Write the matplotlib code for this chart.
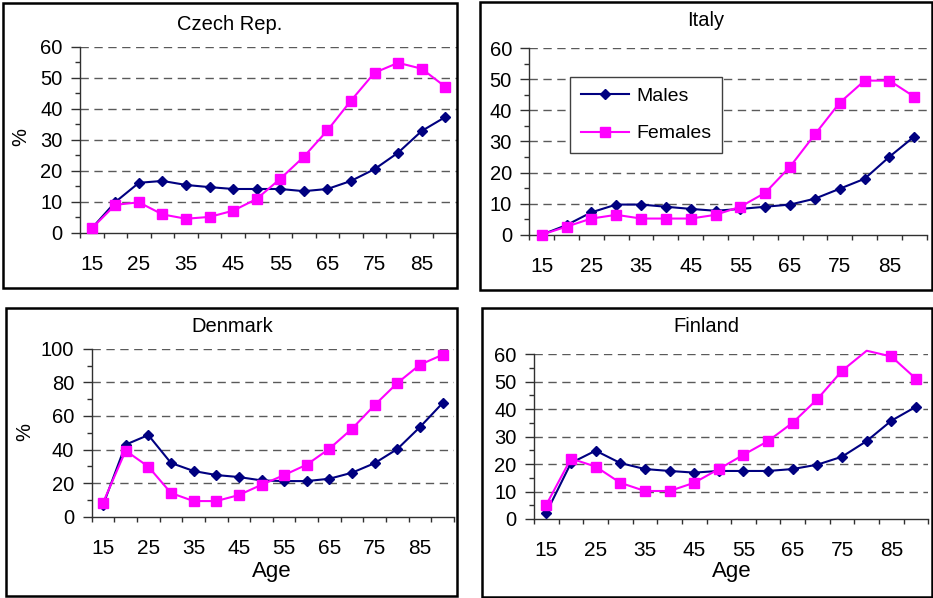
import matplotlib
matplotlib.use("Agg")
import matplotlib.pyplot as plt
from matplotlib.patches import Rectangle
from matplotlib.ticker import MultipleLocator, FixedLocator
import numpy as np

plt.rcParams['font.family'] = ['Liberation Sans', 'DejaVu Sans']

ages = [15, 20, 25, 30, 35, 40, 45, 50, 55, 60, 65, 70, 75, 80, 85, 90]
age_labels = ['15', '', '25', '', '35', '', '45', '', '55', '', '65', '', '75', '', '85', '']

czech_males = [1.4, 9.9, 16.1, 16.7, 15.4, 14.7, 14.1, 14.1, 14.1, 13.4, 14.1, 16.7, 20.5, 25.8, 32.8, 37.3]
czech_females = [1.4, 9.0, 9.8, 5.9, 4.5, 5.1, 7.1, 10.9, 17.4, 24.5, 33.0, 42.6, 51.6, 54.8, 52.9, 47.1]

italy_males = [0.0, 3.1, 7.2, 9.7, 9.7, 9.0, 8.3, 7.7, 8.3, 9.0, 9.7, 11.6, 14.8, 18.0, 25.1, 31.6]
italy_females = [0.0, 2.6, 5.2, 6.4, 5.2, 5.2, 5.2, 6.4, 9.0, 13.5, 21.9, 32.3, 42.5, 49.6, 49.6, 44.4]

denmark_males = [6.9, 42.9, 48.6, 32.0, 27.2, 24.8, 23.6, 21.6, 21.2, 21.2, 22.6, 26.2, 31.9, 40.3, 53.4, 67.7]
denmark_females = [8.3, 39.3, 29.8, 14.1, 9.3, 9.3, 12.9, 19.0, 24.8, 31.0, 40.5, 52.4, 66.5, 79.6, 90.5, 96.4]

finland_males = [2.3, 20.4, 24.9, 20.4, 18.2, 17.5, 16.9, 17.5, 17.5, 17.5, 18.2, 19.8, 22.7, 28.4, 35.8, 40.9]
finland_females = [5.2, 22.0, 19.1, 13.2, 10.2, 10.2, 13.2, 18.2, 23.4, 28.4, 35.1, 43.7, 54.0, 61.3, 59.2, 51.1]

W, H = 933, 598
fig = plt.figure(figsize=(W / 100, H / 100), dpi=100)

MALE_C = '#000080'
FEMALE_C = '#FF00FF'
GRID_C = '#5a5a5a'
AX_C = '#303030'

TICK_FS = 14.5
TITLE_FS = 14.5


def px_axes(left, right, top, bottom):
    return fig.add_axes([left / W, 1 - bottom / H, (right - left) / W, (bottom - top) / H])


def border(x0, y0, x1, y1):
    fig.patches.append(Rectangle((x0 / W, 1 - y1 / H), (x1 - x0) / W, (y1 - y0) / H,
                                 transform=fig.transFigure, fill=False,
                                 edgecolor='black', linewidth=1.8, zorder=0))


def panel(box, ax_px, title, title_xy, males, females, ymax, ystep, ylabel_xy=None,
          age_xy=None, legend=False):
    border(*box)
    ax = px_axes(*ax_px)
    x = np.arange(len(ages))
    for vals, col, mk, ms, lab in [(males, MALE_C, 'D', 4.6, 'Males'),
                                   (females, FEMALE_C, 's', 6.8, 'Females')]:
        vals = np.asarray(vals)
        keep = [i for i in range(len(vals)) if vals[i] <= ymax]
        ax.plot(x, vals, color=col, lw=1.5, marker=mk, ms=ms, mfc=col, mec=col,
                markevery=keep, clip_on=False, label=lab, zorder=3)
    ax.set_xlim(-0.5, len(ages) - 0.5)
    ax.set_ylim(0, ymax)
    for s in ['top', 'right']:
        ax.spines[s].set_visible(False)
    for s in ['left', 'bottom']:
        ax.spines[s].set_color(AX_C)
        ax.spines[s].set_linewidth(1.0)
    ax.yaxis.set_major_locator(MultipleLocator(ystep))
    ax.yaxis.set_minor_locator(MultipleLocator(ystep / 2))
    ax.tick_params(axis='y', which='major', direction='out', length=6.5, width=1.0,
                   color=AX_C, labelsize=TICK_FS, pad=6)
    ax.tick_params(axis='y', which='minor', direction='out', length=3.5, width=1.0, color=AX_C)
    ax.xaxis.set_major_locator(FixedLocator(x))
    ax.set_xticklabels(age_labels)
    ax.xaxis.set_minor_locator(FixedLocator(np.arange(len(ages) + 1) - 0.5))
    ax.tick_params(axis='x', which='major', length=0, labelsize=TICK_FS + 0.5, pad=16)
    ax.tick_params(axis='x', which='minor', direction='out', length=3.8, width=1.0, color=AX_C)
    for yv in np.arange(ystep, ymax + 0.01, ystep):
        ax.axhline(yv, color=GRID_C, lw=1.0, linestyle=(0, (6, 4)), zorder=1)
    ax.set_facecolor('none')
    fig.text(title_xy[0] / W, 1 - title_xy[1] / H, title, ha='center', va='center',
             fontsize=TITLE_FS)
    if ylabel_xy:
        fig.text(ylabel_xy[0] / W, 1 - ylabel_xy[1] / H, '%', ha='center', va='center',
                 rotation=90, fontsize=TICK_FS)
    if age_xy:
        fig.text(age_xy[0] / W, 1 - age_xy[1] / H, 'Age', ha='center', va='center',
                 fontsize=16)
    if legend:
        leg = ax.legend(loc='upper left', bbox_to_anchor=(570 / W, 1 - 77 / H),
                        bbox_transform=fig.transFigure, borderaxespad=0, fontsize=14,
                        handlelength=2.5, handletextpad=0.35, labelspacing=1.0,
                        borderpad=0.55, fancybox=False, framealpha=1)
        leg.get_frame().set_edgecolor('#404040')
        leg.get_frame().set_linewidth(1.0)
    return ax


panel((3, 3, 457, 288), (80, 457, 46.7, 232.7), 'Czech Rep.', (230, 25),
      czech_males, czech_females, 60, 10, ylabel_xy=(21, 137))
panel((480, 2, 932, 290), (529.3, 926.7, 48.3, 234.7), 'Italy', (706, 20),
      italy_males, italy_females, 60, 10, legend=True)
panel((6, 308, 457, 596), (91.7, 454, 348.7, 516.7), 'Denmark', (232, 327),
      denmark_males, denmark_females, 100, 20, ylabel_xy=(25, 432), age_xy=(272, 572))
panel((482, 308, 932, 597), (534, 928.3, 354.3, 519), 'Finland', (706, 327),
      finland_males, finland_females, 60, 10, age_xy=(732, 572))

fig.savefig('out.png', dpi=100)
